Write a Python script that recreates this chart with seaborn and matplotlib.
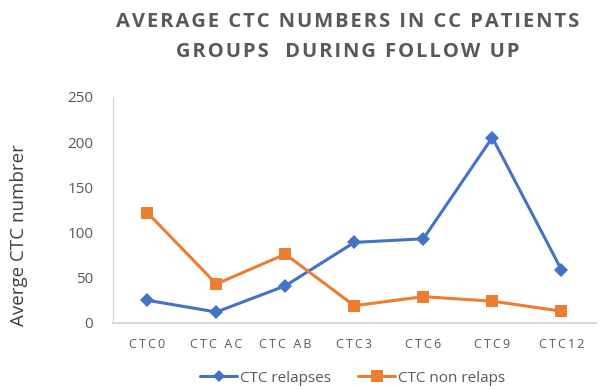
import matplotlib
matplotlib.use("Agg")
import matplotlib.pyplot as plt
import seaborn as sns
import pandas as pd
from matplotlib.lines import Line2D

categories = ["CTC0", "CTC AC", "CTC AB", "CTC3", "CTC6", "CTC9", "CTC12"]
relapses = [25, 12, 41, 89, 93, 205, 59]
non_relaps = [122, 43, 76, 19, 29, 24, 13]
series_names = ["CTC relapses", "CTC non relaps"]
title_lines = ["AVERAGE CTC NUMBERS IN CC PATIENTS", "GROUPS  DURING FOLLOW UP"]
y_label = "Averge CTC numbrer"
y_ticks = [0, 50, 100, 150, 200, 250]

sns.set_theme(style="white")
plt.rcParams["font.family"] = ["Open Sans", "DejaVu Sans"]

df = pd.DataFrame({
    "cat": categories * 2,
    "value": relapses + non_relaps,
    "series": [series_names[0]] * len(categories) + [series_names[1]] * len(categories),
})

gray = "#595959"
blue = "#4472C4"
orange = "#ED7D31"

fig = plt.figure(figsize=(6, 3.89), dpi=100)
ax = fig.add_axes([0.188, 0.170, 0.805, 0.581])

sns.lineplot(data=df, x="cat", y="value", hue="series", style="series",
             markers={series_names[0]: "D", series_names[1]: "s"}, dashes=False,
             palette={series_names[0]: blue, series_names[1]: orange},
             linewidth=2.2, markersize=7, markeredgewidth=0, ax=ax, legend=False, sort=False)
for line in ax.lines:
    if line.get_marker() == "s":
        line.set_markersize(8.5)

ax.set_xlim(-0.5, len(categories) - 0.5)
ax.set_ylim(0, 250)
ax.set_yticks(y_ticks)
ax.set_yticklabels([str(t) for t in y_ticks], fontsize=11, color=gray)
sp = "\u2009"
ax.set_xticks(range(len(categories)))
ax.set_xticklabels([sp.join(c) for c in categories], fontsize=9, color=gray)
ax.tick_params(axis="y", length=0, pad=14)
ax.tick_params(axis="x", length=0, pad=11)
ax.set_xlabel("")
ax.set_ylabel(y_label, fontsize=13.5, color="#404040")
ax.yaxis.set_label_coords(-0.176, 0.39)
for s in ["top", "right"]:
    ax.spines[s].set_visible(False)
ax.spines["left"].set_color("#D9D9D9")
ax.spines["bottom"].set_color("#D9D9D9")
ax.spines["left"].set_linewidth(1.0)
ax.spines["bottom"].set_linewidth(1.5)

hs = "\u200a"
fig.text(0.580, 0.943, hs.join(title_lines[0]), ha="center", va="center",
         fontsize=14.5, fontweight="bold", color=gray)
fig.text(0.580, 0.867, hs.join(title_lines[1]), ha="center", va="center",
         fontsize=14.5, fontweight="bold", color=gray)

handles = [
    Line2D([], [], color=blue, marker="D", markersize=6, linewidth=2.2, markeredgewidth=0),
    Line2D([], [], color=orange, marker="s", markersize=8, linewidth=2.2, markeredgewidth=0),
]
fig.legend(handles, series_names, loc="center", bbox_to_anchor=(0.588, 0.028), ncol=2,
           frameon=False, fontsize=11, labelcolor=gray, handlelength=2.4,
           handletextpad=0.2, columnspacing=1.8)

fig.savefig("out.png", dpi=100)
